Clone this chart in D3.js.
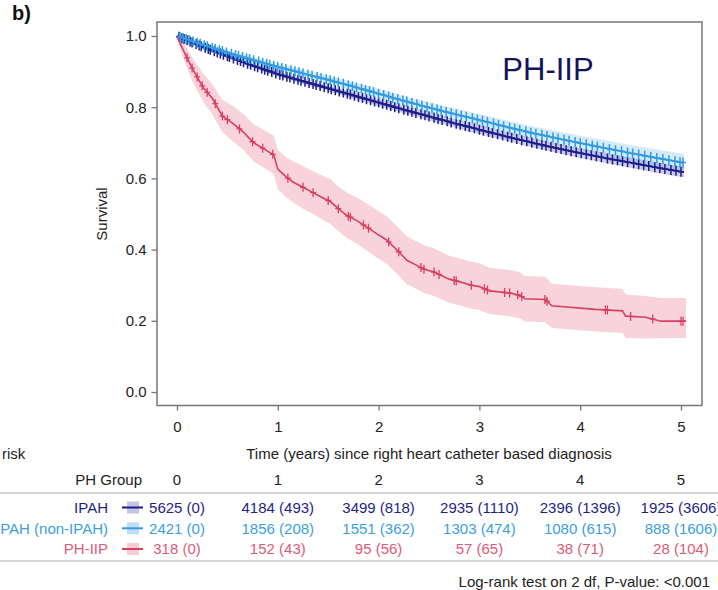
<!DOCTYPE html>
<html>
<head>
<meta charset="utf-8">
<script src="https://cdn.jsdelivr.net/npm/d3@7"></script>
<style>
html,body{margin:0;padding:0;background:#fff;}
svg{display:block;font-family:"Liberation Sans",Arial,Helvetica,sans-serif;}
</style>
</head>
<body>
<svg id="chart" width="718" height="590"></svg>
<script>
// ---------------- DATA ----------------
const xTicks = [0, 1, 2, 3, 4, 5];
const yTicks = [0.0, 0.2, 0.4, 0.6, 0.8, 1.0];
const groups = ["IPAH", "PAH (non-IPAH)", "PH-IIP"];

// Kaplan-Meier estimates: time (years), survival, lower CI, upper CI
const ipahTime  = [0, 0.25, 0.5, 0.75, 1, 1.25, 1.5, 1.75, 2, 2.25, 2.5, 2.75, 3, 3.25, 3.5, 3.75, 4, 4.25, 4.5, 4.75, 5, 5.03];
const ipahSurv  = [1, 0.97, 0.943, 0.917, 0.893, 0.873, 0.853, 0.833, 0.813, 0.793, 0.774, 0.755, 0.737, 0.719, 0.702, 0.686, 0.671, 0.657, 0.644, 0.631, 0.619, 0.618];
const ipahLow   = [1, 0.966, 0.938, 0.911, 0.886, 0.865, 0.845, 0.824, 0.803, 0.783, 0.763, 0.744, 0.725, 0.707, 0.689, 0.673, 0.657, 0.643, 0.63, 0.616, 0.604, 0.603];
const ipahHigh  = [1, 0.975, 0.949, 0.923, 0.9, 0.881, 0.862, 0.842, 0.823, 0.804, 0.785, 0.767, 0.749, 0.731, 0.715, 0.699, 0.685, 0.671, 0.658, 0.646, 0.634, 0.633];

const nonTime   = [0, 0.25, 0.5, 0.75, 1, 1.25, 1.5, 1.75, 2, 2.25, 2.5, 2.75, 3, 3.25, 3.5, 3.75, 4, 4.25, 4.5, 4.75, 5, 5.03];
const nonSurv   = [1, 0.976, 0.953, 0.933, 0.913, 0.895, 0.877, 0.858, 0.838, 0.818, 0.799, 0.781, 0.764, 0.746, 0.729, 0.714, 0.699, 0.685, 0.671, 0.658, 0.645, 0.644];
const nonLow    = [1, 0.97, 0.946, 0.925, 0.904, 0.885, 0.866, 0.846, 0.825, 0.804, 0.784, 0.765, 0.747, 0.728, 0.71, 0.694, 0.678, 0.663, 0.648, 0.634, 0.62, 0.619];
const nonHigh   = [1, 0.982, 0.96, 0.941, 0.922, 0.905, 0.888, 0.87, 0.851, 0.832, 0.814, 0.797, 0.781, 0.764, 0.748, 0.734, 0.72, 0.707, 0.694, 0.682, 0.67, 0.669];

const iipTime   = [0, 0.03, 0.08, 0.15, 0.26, 0.35, 0.45, 0.55, 0.66, 0.76, 0.85, 0.96, 1.0, 1.08, 1.15, 1.25, 1.35, 1.45, 1.52, 1.6, 1.68, 1.78, 1.88, 1.98, 2.08, 2.2, 2.28, 2.35, 2.45, 2.55, 2.7, 2.8, 2.92, 3.0, 3.1, 3.3, 3.4, 3.45, 3.65, 3.72, 4.15, 4.42, 4.45, 4.65, 4.8, 5.05];
const iipSurv   = [1, 0.98, 0.95, 0.91, 0.855, 0.825, 0.775, 0.755, 0.73, 0.70, 0.685, 0.666, 0.626, 0.605, 0.59, 0.575, 0.56, 0.545, 0.535, 0.515, 0.497, 0.482, 0.464, 0.445, 0.427, 0.394, 0.37, 0.36, 0.345, 0.337, 0.317, 0.31, 0.30, 0.296, 0.284, 0.278, 0.272, 0.262, 0.26, 0.242, 0.232, 0.228, 0.213, 0.21, 0.199, 0.199];
const iipLow    = [1, 0.965, 0.925, 0.875, 0.815, 0.78, 0.73, 0.705, 0.68, 0.648, 0.632, 0.612, 0.57, 0.548, 0.532, 0.515, 0.5, 0.483, 0.472, 0.452, 0.433, 0.417, 0.398, 0.378, 0.36, 0.327, 0.303, 0.293, 0.278, 0.27, 0.251, 0.244, 0.234, 0.23, 0.219, 0.213, 0.207, 0.198, 0.196, 0.18, 0.17, 0.166, 0.152, 0.15, 0.152, 0.152];
const iipHigh   = [1, 0.995, 0.975, 0.94, 0.895, 0.865, 0.82, 0.805, 0.78, 0.752, 0.738, 0.72, 0.68, 0.66, 0.648, 0.635, 0.62, 0.607, 0.598, 0.578, 0.561, 0.547, 0.53, 0.512, 0.494, 0.461, 0.437, 0.427, 0.412, 0.404, 0.383, 0.376, 0.366, 0.362, 0.349, 0.343, 0.337, 0.326, 0.324, 0.304, 0.294, 0.29, 0.274, 0.27, 0.264, 0.264];

// Censoring times (years)
const ipahCensor = [0.02,0.05,0.07,0.1,0.13,0.15,0.19,0.22,0.24,0.28,0.31,0.33,0.37,0.4,0.43,0.46,0.5,0.52,0.56,0.6,0.63,0.66,0.7,0.73,0.77,0.8,0.84,0.87,0.9,0.94,0.98,1.02,1.05,1.09,1.12,1.16,1.2,1.23,1.27,1.31,1.35,1.38,1.42,1.46,1.5,1.53,1.57,1.61,1.65,1.69,1.72,1.76,1.8,1.84,1.88,1.92,1.96,2.0,2.04,2.08,2.12,2.16,2.2,2.25,2.29,2.33,2.37,2.42,2.46,2.5,2.55,2.59,2.63,2.68,2.72,2.77,2.81,2.86,2.9,2.95,3.0,3.04,3.09,3.13,3.18,3.23,3.28,3.32,3.37,3.42,3.47,3.52,3.57,3.62,3.66,3.71,3.76,3.81,3.86,3.91,3.96,4.01,4.06,4.11,4.16,4.21,4.27,4.32,4.37,4.42,4.47,4.53,4.58,4.63,4.68,4.74,4.79,4.84,4.9,4.95,5.0];
const nonCensor = [0.03,0.06,0.09,0.12,0.16,0.2,0.23,0.27,0.3,0.35,0.38,0.42,0.45,0.49,0.54,0.58,0.61,0.65,0.69,0.72,0.76,0.81,0.85,0.89,0.92,0.96,1.0,1.04,1.08,1.13,1.17,1.21,1.25,1.3,1.34,1.39,1.43,1.48,1.52,1.56,1.6,1.65,1.7,1.74,1.78,1.83,1.87,1.91,1.95,2.0,2.05,2.1,2.14,2.19,2.24,2.28,2.33,2.38,2.43,2.48,2.53,2.58,2.62,2.67,2.72,2.77,2.82,2.87,2.93,2.98,3.03,3.08,3.14,3.19,3.24,3.3,3.35,3.4,3.46,3.51,3.56,3.62,3.67,3.73,3.78,3.84,3.89,3.95,4.0,4.06,4.12,4.17,4.23,4.29,4.35,4.41,4.47,4.52,4.58,4.64,4.7,4.76,4.82,4.88,4.94,4.99,5.02];
const iipCensor = [0.1,0.15,0.2,0.25,0.3,0.38,0.45,0.5,0.62,0.75,0.85,0.95,1.1,1.25,1.35,1.5,1.6,1.7,1.72,1.85,1.9,2.1,2.2,2.42,2.45,2.55,2.6,2.75,2.77,2.92,3.05,3.08,3.25,3.3,3.38,3.42,3.65,3.67,4.25,4.27,4.5,4.72,5.0,5.02];

// Number at risk (number censored)
const riskIPAH = [5625, 4184, 3499, 2935, 2396, 1925];
const censIPAH = [0, 493, 818, 1110, 1396, 3606];
const riskNon  = [2421, 1856, 1551, 1303, 1080, 888];
const censNon  = [0, 208, 362, 474, 615, 1606];
const riskIIP  = [318, 152, 95, 57, 38, 28];
const censIIP  = [0, 43, 56, 65, 71, 104];

const xLabel = "Time (years) since right heart catheter based diagnosis";
const yLabel = "Survival";
const riskLabel = "risk";
const footnote = "Log-rank test on 2 df, P-value: <0.001";

// ---------------- STYLE ----------------
const colLine = ["#1c1c8c", "#2f9be3", "#d9405f"];
const colText = ["#1f1f8a", "#3a9fe2", "#de5a75"];
const colBand = ["rgba(28,28,140,0.22)", "rgba(47,155,227,0.20)", "rgba(232,110,140,0.30)"];
const colLegBox = ["#c4c4e6", "#c2def4", "#f6cdd7"];

const svg = d3.select("#chart");
const FONT = 15;

const x = d3.scaleLinear().domain([0, 5]).range([177, 681]);
const y = d3.scaleLinear().domain([0, 1]).range([392, 36]);
const frame = {x0: 157, x1: 702, y0: 22, y1: 405.5};

// panel label
svg.append("text").attr("x", 12).attr("y", 20).attr("font-size", 20).attr("font-weight", "bold").attr("fill", "#111").text("b)");

const series = [
  {t: ipahTime, s: ipahSurv, lo: ipahLow, hi: ipahHigh, c: ipahCensor},
  {t: nonTime,  s: nonSurv,  lo: nonLow,  hi: nonHigh,  c: nonCensor},
  {t: iipTime,  s: iipSurv,  lo: iipLow,  hi: iipHigh,  c: iipCensor}
];

const plot = svg.append("g");
[2, 0, 1].forEach(i => {
  const d = series[i];
  const pts = d.t.map((t, k) => ({t, lo: d.lo[k], hi: d.hi[k]}));
  plot.append("path")
    .attr("d", d3.area().x(p => x(p.t)).y0(p => y(p.lo)).y1(p => y(p.hi))(pts))
    .attr("fill", colBand[i]).attr("stroke", "none");
});
function survAt(d, t) {
  const idx = d3.bisectRight(d.t, t) - 1;
  if (idx >= d.t.length - 1) return d.s[d.s.length - 1];
  const t0 = d.t[idx], t1 = d.t[idx + 1];
  return d.s[idx] + (d.s[idx + 1] - d.s[idx]) * (t - t0) / (t1 - t0);
}
[0, 1, 2].forEach(i => {
  const d = series[i];
  const pts = d.t.map((t, k) => ({t, s: d.s[k]}));
  plot.append("path")
    .attr("d", d3.line().x(p => x(p.t)).y(p => y(p.s))(pts))
    .attr("fill", "none").attr("stroke", colLine[i]).attr("stroke-width", i === 2 ? 1.6 : 1.8);
  plot.append("g").selectAll("path").data(d.c).join("path")
    .attr("transform", t => `translate(${x(t)},${y(survAt(d, t))})`)
    .attr("d", i === 2 ? "M-3,0H3M0,-4.5V4.5" : "M-3,0H3M0,-5V5")
    .attr("stroke", colLine[i]).attr("stroke-width", i === 2 ? 1.3 : 1.5).attr("fill", "none");
});

// frame
svg.append("rect").attr("x", frame.x0).attr("y", frame.y0)
  .attr("width", frame.x1 - frame.x0).attr("height", frame.y1 - frame.y0)
  .attr("fill", "none").attr("stroke", "#777").attr("stroke-width", 1.5);

// axes
const yAxis = svg.append("g").attr("transform", `translate(${frame.x0},0)`)
  .call(d3.axisLeft(y).tickValues(yTicks).tickFormat(d3.format(".1f")).tickSize(5.5).tickPadding(5));
const xAxis = svg.append("g").attr("transform", `translate(0,${frame.y1})`)
  .call(d3.axisBottom(x).tickValues(xTicks).tickFormat(d3.format("d")).tickSize(5).tickPadding(11));
[yAxis, xAxis].forEach(a => {
  a.select(".domain").remove();
  a.selectAll(".tick line").attr("stroke", "#777").attr("stroke-width", 1.3);
  a.selectAll(".tick text").attr("font-size", FONT).attr("fill", "#222")
    .attr("font-family", "Liberation Sans, Arial, sans-serif");
});

// axis titles
svg.append("text").attr("transform", `translate(107,${(y(0) + y(1)) / 2}) rotate(-90)`)
  .attr("text-anchor", "middle").attr("font-size", FONT).attr("fill", "#222").text(yLabel);
svg.append("text").attr("x", (x(0) + x(5)) / 2).attr("y", 458.5)
  .attr("text-anchor", "middle").attr("font-size", FONT).attr("fill", "#222").text(xLabel);

// PH-IIP annotation
svg.append("text").attr("x", 548).attr("y", 80).attr("text-anchor", "middle")
  .attr("font-size", 31).attr("fill", "#14145e").text("PH-IIP");

// -------- risk table --------
svg.append("text").attr("x", 2).attr("y", 458.5)
  .attr("font-size", FONT).attr("fill", "#222").text(riskLabel);
svg.append("text").attr("x", 142).attr("y", 484.5).attr("text-anchor", "end")
  .attr("font-size", FONT).attr("fill", "#222").text("PH Group");
svg.append("g").selectAll("text").data(xTicks).join("text")
  .attr("x", d => x(d)).attr("y", 484.5).attr("text-anchor", "middle")
  .attr("font-size", FONT).attr("fill", "#222").text(d => d);

[493, 561].forEach(yy => svg.append("line").attr("x1", 0).attr("x2", 718)
  .attr("y1", yy).attr("y2", yy).attr("stroke", "#d4d4d4").attr("stroke-width", 2));

const risks = [riskIPAH, riskNon, riskIIP];
const cens = [censIPAH, censNon, censIIP];
const rowY = [507.5, 528.3, 549];
groups.forEach((g, i) => {
  const cy = rowY[i];
  svg.append("text").attr("x", 108).attr("y", cy + 5.4).attr("text-anchor", "end")
    .attr("font-size", FONT).attr("fill", colText[i]).text(g);
  svg.append("rect").attr("x", 127).attr("y", cy - 6).attr("width", 12).attr("height", 12)
    .attr("fill", colLegBox[i]);
  svg.append("line").attr("x1", 122).attr("x2", 143).attr("y1", cy).attr("y2", cy)
    .attr("stroke", colLine[i]).attr("stroke-width", 2);
  svg.append("g").selectAll("text").data(xTicks).join("text")
    .attr("x", d => x(d)).attr("y", cy + 5.4).attr("text-anchor", "middle")
    .attr("font-size", FONT).attr("fill", colText[i])
    .text((d, k) => `${risks[i][k]} (${cens[i][k]})`);
});

svg.append("text").attr("x", 710).attr("y", 587).attr("text-anchor", "end")
  .attr("font-size", FONT).attr("fill", "#222").text(footnote);
</script>
</body>
</html>
